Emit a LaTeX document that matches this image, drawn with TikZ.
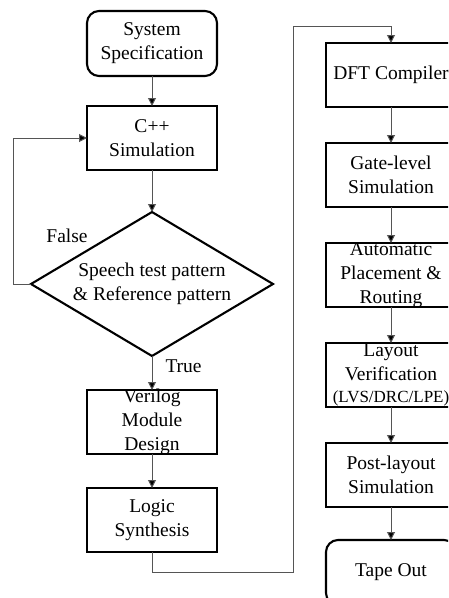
\documentclass[tikz,border=0pt]{standalone}
\usepackage{fontspec}
\setmainfont{Liberation Serif}
\usetikzlibrary{shapes.geometric, arrows.meta, positioning, calc}
\definecolor{cBoxDraw}{RGB}{0, 0, 0}
\definecolor{lineColor}{RGB}{85, 85, 85}
\tikzset{
    font=\fontsize{19.5}{24}\selectfont,
    % --- boxes ---
    process/.style={
        rectangle, draw=cBoxDraw, line width=2.1pt,
        align=center,
        minimum width=130pt,
        minimum height=64pt,
        inner xsep=0pt, inner ysep=-10pt,
        outer sep=0pt
    },
    terminal/.style={ process, rounded corners=12pt, minimum height=65pt },
    decision/.style={
        diamond, draw=cBoxDraw, line width=2.1pt,
        minimum width=242pt, minimum height=144pt,
        inner sep=0pt, outer sep=0pt
    },
    %
    % --- connectors and labels ---
    conn/.style={
        draw=lineColor, line width=1pt,
        -{Triangle[length=8pt, width=8pt, fill=black]}
    },
    branchLabel/.style={
        inner sep=0pt, text=black
    }
}

\begin{document}
\begin{tikzpicture}[x=1pt, y=-1pt, node distance=36pt]

	\useasboundingbox (0,0) rectangle (448,598);
	\clip (0,0) rectangle (448,598);

	% =========================================
	% 1. left column
	% =========================================

	\node [terminal] at (152,43.5) (spec) {System\\Specification};

	\node [process, below=30pt of spec] (cpp) {C++\\Simulation};

	\node [decision, below=42pt of cpp] (check) {};
	\node [align=center, inner sep=0pt] at (check.center) (checktext) {
		Speech test pattern\\
		\& Reference pattern
	};

	\node [process, below=34pt of check] (verilog) {Verilog\\Module\\Design};

	\node [process, below=34pt of verilog] (logic) {Logic\\Synthesis};

	% =========================================
	% 2. right column
	% =========================================

	\node [process] at (391,75) (dft) {DFT Compiler};

	\node [process, below=of dft] (gate) {Gate-level\\Simulation};

	\node [process, below=of gate] (apr) {Automatic\\Placement \&\\Routing};

	\node [process, below=of apr] (lvs) {
		Layout\\
		Verification\\[-2pt]
		{\fontsize{17}{20}\selectfont (LVS/DRC/LPE)}
	};

	\node [process, below=of lvs] (post) {Post-layout\\Simulation};

	\node [terminal, below=33pt of post] (tape) {Tape Out};

	% =========================================
	% 3. connectors
	% =========================================

	\draw [conn] (spec) -- (cpp);
	\draw [conn] (cpp) -- (check);

	% [True]
	\draw [conn] (check.south) -- node[branchLabel, right=13pt, pos=0.3] {True} (verilog.north);

	% [False]: back to C++ Simulation
	\draw [conn] (check.west) -- ++(-18,0) |- (cpp.west);
	\node [branchLabel] at ($(check.west) + (36,-48)$) (falselabel) {False};

	\draw [conn] (verilog) -- (logic);

	% [Logic Synthesis -> DFT Compiler]
	\coordinate (turnlow) at (293,572);
	\coordinate (turnhigh) at (293,26);
	\draw [conn] (logic.south) |- (turnlow) -- (turnhigh) -| (dft.north);

	\draw [conn] (dft) -- (gate);
	\draw [conn] (gate) -- (apr);
	\draw [conn] (apr) -- (lvs);
	\draw [conn] (lvs) -- (post);
	\draw [conn] (post) -- (tape);

\end{tikzpicture}
\end{document}
